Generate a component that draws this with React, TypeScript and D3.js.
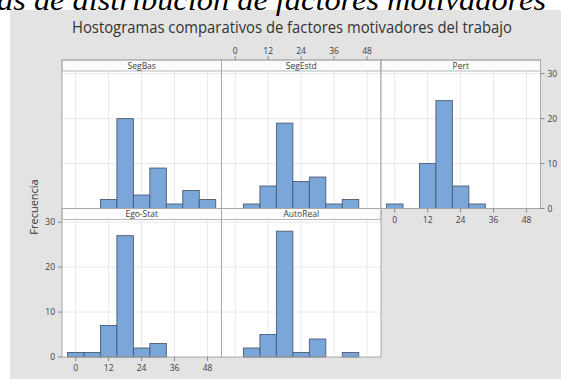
import React from "react";
import * as d3 from "d3";

// Bin midpoints (bin width 6) and counts per factor
const binCenters = [0, 6, 12, 18, 24, 30, 36, 42, 48];
const segBas = [0, 0, 2, 20, 3, 9, 1, 4, 2];
const segEstd = [0, 1, 5, 19, 6, 7, 1, 2, 0];
const pert = [1, 0, 10, 24, 5, 1, 0, 0, 0];
const egoStat = [1, 1, 7, 27, 2, 3, 0, 0, 0];
const autoReal = [0, 2, 5, 28, 1, 4, 0, 1, 0];

const panelNames = ["SegBas", "SegEstd", "Pert", "Ego-Stat", "AutoReal"];
const xTicks = [0, 12, 24, 36, 48];
const yTicks = [0, 10, 20, 30];

const headline = "as de distribución de factores motivadores";
const title = "Hostogramas comparativos de factores motivadores del trabajo";
const yLabel = "Frecuencia";

const W = 561;
const H = 379;
const colEdges = [62, 221.5, 381, 540.5];
const rows = [
  { head: 60, top: 71, bottom: 208.5 },
  { head: 208.5, top: 219.5, bottom: 357 },
];
const binWidth = 6;
const font = "'Open Sans', 'Noto Sans', sans-serif";
const barFill = "#7ba6d9";
const barStroke = "#4a5c72";
const gridColor = "#e8e8e8";
const frameColor = "#a8a8a8";
const textColor = "#3c3c3c";

const panels = [
  { name: panelNames[0], counts: segBas, row: 0, col: 0 },
  { name: panelNames[1], counts: segEstd, row: 0, col: 1 },
  { name: panelNames[2], counts: pert, row: 0, col: 2 },
  { name: panelNames[3], counts: egoStat, row: 1, col: 0 },
  { name: panelNames[4], counts: autoReal, row: 1, col: 1 },
];

function Panel({ p }: { p: (typeof panels)[number] }) {
  const x0 = colEdges[p.col];
  const x1 = colEdges[p.col + 1];
  const r = rows[p.row];
  const x = d3.scaleLinear().domain([-5, 53.1]).range([x0, x1]);
  const y = d3.scaleLinear().domain([0, 30.6]).range([r.bottom, r.top]);

  const bars = binCenters
    .map((c, i) => ({ c, n: p.counts[i] }))
    .filter((d) => d.n > 0);

  return (
    <g>
      <rect x={x0} y={r.top} width={x1 - x0} height={r.bottom - r.top} fill="#fff" />
      {xTicks.map((t) => (
        <line key={"vx" + t} x1={x(t)} x2={x(t)} y1={r.top} y2={r.bottom} stroke={gridColor} strokeWidth={1} />
      ))}
      {yTicks.slice(1).map((t) => (
        <line key={"hy" + t} x1={x0} x2={x1} y1={y(t)} y2={y(t)} stroke={gridColor} strokeWidth={1} />
      ))}
      {bars.map((d) => (
        <rect
          key={d.c}
          x={x(d.c - binWidth / 2)}
          y={y(d.n)}
          width={x(d.c + binWidth / 2) - x(d.c - binWidth / 2)}
          height={y(0) - y(d.n)}
          fill={barFill}
          stroke={barStroke}
          strokeWidth={0.9}
        />
      ))}
      {/* header strip */}
      <rect x={x0} y={r.head} width={x1 - x0} height={r.top - r.head} fill="#fbfbfb" stroke={frameColor} strokeWidth={0.8} />
      <text x={(x0 + x1) / 2} y={r.head + 8.5} textAnchor="middle" fontSize={8.5} fill={textColor} fontFamily={font}>
        {p.name}
      </text>
      <rect x={x0} y={r.head} width={x1 - x0} height={r.bottom - r.head} fill="none" stroke={frameColor} strokeWidth={1} />
    </g>
  );
}

function XAxis({ col, yPos, dir }: { col: number; yPos: number; dir: 1 | -1 }) {
  const x = d3.scaleLinear().domain([-5, 53.1]).range([colEdges[col], colEdges[col + 1]]);
  return (
    <g>
      {xTicks.map((t) => (
        <g key={t}>
          <line x1={x(t)} x2={x(t)} y1={yPos} y2={yPos + dir * 4} stroke="#888" strokeWidth={1} />
          <text
            x={x(t)}
            y={dir > 0 ? yPos + 14 : yPos - 6}
            textAnchor="middle"
            fontSize={8.5}
            fill={textColor}
            fontFamily={font}
          >
            {t}
          </text>
        </g>
      ))}
    </g>
  );
}

function YAxis({ row, xPos, dir }: { row: number; xPos: number; dir: 1 | -1 }) {
  const r = rows[row];
  const y = d3.scaleLinear().domain([0, 30.6]).range([r.bottom, r.top]);
  return (
    <g>
      {yTicks.map((t) => (
        <g key={t}>
          <line x1={xPos} x2={xPos + dir * 4} y1={y(t)} y2={y(t)} stroke="#888" strokeWidth={1} />
          <text
            x={xPos + dir * 7}
            y={y(t) + 3}
            textAnchor={dir > 0 ? "start" : "end"}
            fontSize={8.5}
            fill={textColor}
            fontFamily={font}
          >
            {t}
          </text>
        </g>
      ))}
    </g>
  );
}

export default function App() {
  return (
    <svg
      width={W}
      height={H}
      viewBox={`0 0 ${W} ${H}`}
      style={{ position: "absolute", left: 0, top: 0, background: "#fff" }}
    >
      <rect x={10} y={10} width={W - 10} height={H - 10} fill="#e3e3e3" />
      <text
        x={-3}
        y={10}
        fontSize={30}
        fontStyle="italic"
        fontFamily="'Liberation Serif', 'DejaVu Serif', serif"
        fill="#000"
        textLength={549}
        lengthAdjust="spacingAndGlyphs"
      >
        {headline}
      </text>
      <text
        x={292}
        y={33}
        textAnchor="middle"
        fontSize={15.5}
        fill="#333"
        fontFamily={font}
        textLength={440}
        lengthAdjust="spacingAndGlyphs"
      >
        {title}
      </text>
      {panels.map((p) => (
        <Panel key={p.name} p={p} />
      ))}
      <XAxis col={1} yPos={rows[0].head} dir={-1} />
      <XAxis col={2} yPos={rows[0].bottom} dir={1} />
      <XAxis col={0} yPos={rows[1].bottom} dir={1} />
      <YAxis row={0} xPos={colEdges[3]} dir={1} />
      <YAxis row={1} xPos={colEdges[0]} dir={-1} />
      <text
        transform="translate(38,207) rotate(-90)"
        textAnchor="middle"
        fontSize={11}
        fill="#333"
        fontFamily={font}
      >
        {yLabel}
      </text>
    </svg>
  );
}
